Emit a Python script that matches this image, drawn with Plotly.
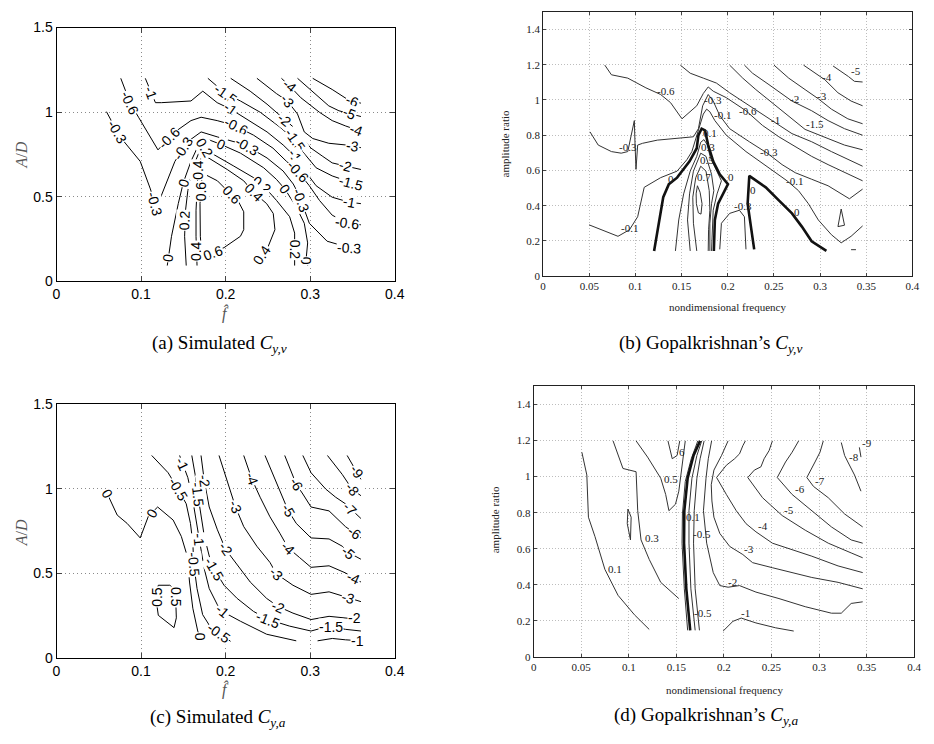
import plotly.graph_objects as go

SANS = "Liberation Sans, Arial, sans-serif"
SERIF = "Liberation Serif, Times New Roman, serif"

# ================= Panel (a): simulated C_y,v  (x = f-hat, y = A/D) =================
A_M6_F = [0.303, 0.326, 0.344, 0.36]
A_M6_A = [1.2, 1.134, 1.076, 1.053]
A_M5_F = [0.285, 0.307, 0.322, 0.334, 0.36]
A_M5_A = [1.2, 1.105, 1.037, 1.008, 0.974]
A_M4_F = [0.266, 0.276, 0.289, 0.311, 0.326, 0.342, 0.36]
A_M4_A = [1.2, 1.153, 1.085, 0.999, 0.950, 0.918, 0.887]
A_M3_F = [0.237, 0.260, 0.273, 0.285, 0.293, 0.303, 0.322, 0.342, 0.36]
A_M3_A = [1.2, 1.11, 1.066, 0.989, 0.883, 0.844, 0.816, 0.806, 0.790]
A_M2_F = [0.206, 0.229, 0.249, 0.264, 0.280, 0.291, 0.301, 0.315, 0.326, 0.342, 0.36]
A_M2_A = [1.2, 1.124, 1.047, 0.979, 0.912, 0.844, 0.787, 0.738, 0.700, 0.681, 0.661]
A_M15_F = [0.179, 0.2, 0.2175, 0.241, 0.264, 0.282, 0.291, 0.307, 0.326, 0.348, 0.36]
A_M15_A = [1.2, 1.11, 1.066, 0.999, 0.912, 0.835, 0.767, 0.671, 0.623, 0.584, 0.565]
A_M1_F = [0.105, 0.117, 0.124, 0.159, 0.173, 0.190, 0.206, 0.225, 0.249, 0.268, 0.282, 0.291, 0.307, 0.326, 0.346, 0.36]
A_M1_A = [1.2, 1.056, 1.056, 1.066, 1.124, 1.056, 1.018, 0.960, 0.883, 0.806, 0.738, 0.671, 0.565, 0.497, 0.468, 0.459]
A_M06_F = [0.076, 0.087, 0.097, 0.120, 0.140, 0.159, 0.171, 0.190, 0.210, 0.233, 0.256, 0.272, 0.285, 0.299, 0.311, 0.326, 0.344, 0.36]
A_M06_A = [1.2, 1.056, 0.970, 0.777, 0.883, 0.950, 0.970, 0.950, 0.922, 0.864, 0.787, 0.709, 0.652, 0.565, 0.478, 0.391, 0.343, 0.334]
A_M03_F = [0.059, 0.072, 0.080, 0.099, 0.111, 0.1165, 0.1235, 0.140, 0.155, 0.171, 0.190, 0.223, 0.249, 0.268, 0.280, 0.287, 0.299, 0.320, 0.346, 0.36]
A_M03_A = [1.003, 0.883, 0.825, 0.709, 0.546, 0.459, 0.501, 0.709, 0.825, 0.883, 0.854, 0.806, 0.729, 0.652, 0.575, 0.507, 0.343, 0.237, 0.199, 0.199]
A_0_F = [0.131, 0.136, 0.144, 0.150, 0.159, 0.168, 0.173, 0.181, 0.194, 0.2175, 0.245, 0.260, 0.270, 0.2835, 0.293, 0.297, 0.295, 0.297]
A_0_A = [0.093, 0.266, 0.459, 0.584, 0.709, 0.806, 0.835, 0.835, 0.81, 0.758, 0.671, 0.603, 0.546, 0.440, 0.343, 0.227, 0.121, 0.093]
A_02_F = [0.1534, 0.1515, 0.1526, 0.1553, 0.1612, 0.1689, 0.1755, 0.1864, 0.2097, 0.233, 0.2447, 0.2602, 0.2757, 0.2816, 0.2816, 0.2816]
A_02_A = [0.093, 0.266, 0.420, 0.536, 0.671, 0.767, 0.790, 0.748, 0.681, 0.613, 0.565, 0.478, 0.382, 0.285, 0.189, 0.093]
A_04_F = [0.1662, 0.165, 0.165, 0.1662, 0.1678, 0.1717, 0.1786, 0.2019, 0.2214, 0.233, 0.2485, 0.2563, 0.2583, 0.2505, 0.2427]
A_04_A = [0.093, 0.266, 0.420, 0.575, 0.690, 0.733, 0.733, 0.661, 0.594, 0.526, 0.459, 0.401, 0.305, 0.208, 0.150]
A_06_F = [0.172, 0.1767, 0.1903, 0.2058, 0.2155, 0.2214, 0.2214, 0.2175, 0.1981, 0.1845, 0.172, 0.1701, 0.1697, 0.172]
A_06_A = [0.613, 0.629, 0.594, 0.520, 0.468, 0.411, 0.305, 0.266, 0.199, 0.170, 0.141, 0.266, 0.459, 0.613]

A_LAB_TXT = ["-6", "-5", "-4", "-4", "-3", "-3", "-2", "-2", "-1.5", "-1.5", "-1.5",
             "-1", "-1", "-1", "-1", "-0.6", "-0.6", "-0.6", "-0.6", "-0.6",
             "-0.3", "-0.3", "-0.3", "-0.3", "-0.3", "-0.3", "0", "0", "0", "0", "0",
             "0.2", "0.2", "0.2", "0.2", "0.4", "0.4", "0.4", "0.4", "0.6", "0.6", "0.6"]
A_LAB_F = [0.350, 0.346, 0.276, 0.355, 0.273, 0.350, 0.270, 0.342, 0.200, 0.282, 0.348,
           0.112, 0.206, 0.282, 0.346, 0.087, 0.133, 0.212, 0.285, 0.344,
           0.072, 0.1165, 0.150, 0.225, 0.289, 0.346, 0.1324, 0.150, 0.194, 0.270, 0.295,
           0.1518, 0.1755, 0.2427, 0.2816, 0.1652, 0.1675, 0.233, 0.2427, 0.1705, 0.2078, 0.1845]
A_LAB_A = [1.067, 0.992, 1.153, 0.896, 1.066, 0.799, 0.954, 0.681, 1.110, 0.835, 0.584,
           1.116, 1.018, 0.738, 0.468, 1.056, 0.846, 0.917, 0.652, 0.343,
           0.883, 0.459, 0.786, 0.800, 0.480, 0.199, 0.141, 0.584, 0.810, 0.546, 0.121,
           0.36, 0.79, 0.570, 0.189, 0.18, 0.66, 0.526, 0.155, 0.53, 0.51, 0.170]
A_LAB_ROT = [22, 22, 40, 20, 50, 8, 40, 15, 35, 55, 15,
             70, 35, 55, 10, 65, -45, 27, 47, 8,
             60, 75, -57, 30, 70, 3, -82, -73, 24, 54, 90,
             -88, 60, 39, 90, -90, -90, 45, -56, -90, 47, -20]

# ================= Panel (b): Gopalkrishnan's C_y,v =================
B_M5_F = [0.314, 0.3264, 0.3307, 0.3371, 0.346]
B_M5_A = [1.193, 1.152, 1.133, 1.106, 1.102]
B_M4_F = [0.282, 0.2944, 0.3051, 0.3193, 0.3335, 0.346]
B_M4_A = [1.198, 1.152, 1.115, 1.041, 0.994, 0.967]
B_M3_F = [0.25, 0.266, 0.2837, 0.298, 0.3122, 0.33, 0.346]
B_M3_A = [1.198, 1.124, 1.059, 1.007, 0.948, 0.893, 0.865]
B_M2_F = [0.218, 0.2268, 0.2446, 0.2695, 0.2908, 0.3086, 0.3264, 0.346]
B_M2_A = [1.198, 1.152, 1.087, 0.994, 0.939, 0.883, 0.837, 0.800]
B_M15_F = [0.202, 0.2162, 0.2304, 0.2517, 0.2837, 0.3086, 0.3264, 0.346]
B_M15_A = [1.198, 1.124, 1.059, 0.967, 0.833, 0.781, 0.744, 0.717]
B_M1_F = [0.1486, 0.1593, 0.1735, 0.1877, 0.202, 0.2233, 0.25, 0.2695, 0.2908, 0.3122, 0.346]
B_M1_A = [1.198, 1.152, 1.124, 1.096, 1.041, 0.967, 0.874, 0.809, 0.763, 0.707, 0.624]
B_M06_F = [0.0668, 0.074, 0.0917, 0.1113, 0.1273, 0.138, 0.1504, 0.1664, 0.1735, 0.1788, 0.1842, 0.1984, 0.2197, 0.2375, 0.2553, 0.2731, 0.2908, 0.3086, 0.346]
B_M06_A = [1.198, 1.143, 1.124, 1.069, 1.031, 0.985, 0.893, 0.967, 1.037, 1.074, 1.050, 1.013, 0.939, 0.856, 0.791, 0.735, 0.680, 0.633, 0.541]
B_M03_F = [0.0508, 0.0597, 0.074, 0.0846, 0.0917, 0.0988, 0.0996, 0.1006, 0.1024, 0.1077, 0.1237, 0.1451, 0.1628, 0.1682, 0.1728, 0.1788, 0.1842, 0.1913, 0.202, 0.2233, 0.2428, 0.2588, 0.2731, 0.2908, 0.3086, 0.3317, 0.346]
B_M03_A = [0.819, 0.744, 0.707, 0.698, 0.707, 0.883, 0.744, 0.606, 0.744, 0.754, 0.772, 0.781, 0.791, 0.837, 0.967, 1.031, 0.994, 0.911, 0.837, 0.763, 0.698, 0.633, 0.587, 0.550, 0.513, 0.439, 0.494]
B_M01_F = [0.0498, 0.0668, 0.0811, 0.0935, 0.1024, 0.1095, 0.1149, 0.1273, 0.1451, 0.1557, 0.1611, 0.1664, 0.17, 0.1735, 0.1771, 0.1806, 0.186, 0.1984, 0.2197, 0.2446, 0.2642, 0.2766, 0.2873, 0.298, 0.3122, 0.3228, 0.3335, 0.346]
B_M01_A = [0.291, 0.254, 0.226, 0.263, 0.337, 0.504, 0.522, 0.559, 0.596, 0.661, 0.707, 0.800, 0.865, 0.920, 0.948, 0.933, 0.883, 0.800, 0.707, 0.615, 0.541, 0.485, 0.411, 0.319, 0.235, 0.189, 0.226, 0.285]
B_0L_F = [0.1202, 0.1255, 0.1301, 0.1362, 0.1451, 0.1586, 0.1664, 0.1682, 0.1717, 0.1753, 0.1788, 0.1842, 0.1913, 0.2002, 0.1948, 0.1895, 0.186, 0.1849]
B_0L_A = [0.143, 0.319, 0.448, 0.522, 0.559, 0.652, 0.726, 0.800, 0.837, 0.828, 0.744, 0.652, 0.578, 0.522, 0.467, 0.411, 0.319, 0.143]
B_0R_F = [0.2286, 0.2251, 0.2215, 0.2233, 0.2411, 0.2553, 0.2695, 0.2802, 0.2908, 0.3068]
B_0R_A = [0.152, 0.281, 0.411, 0.569, 0.504, 0.430, 0.356, 0.281, 0.198, 0.143]
B_01_F = [0.1433, 0.1469, 0.1522, 0.1593, 0.1664, 0.1707, 0.1742, 0.1778, 0.1813, 0.1877, 0.1931, 0.1884, 0.1842, 0.1824]
B_01_A = [0.143, 0.319, 0.467, 0.596, 0.680, 0.760, 0.775, 0.745, 0.670, 0.596, 0.541, 0.467, 0.374, 0.143]
B_03_F = [0.1593, 0.1564, 0.1586, 0.1628, 0.1707, 0.1764, 0.1824, 0.1849, 0.1824, 0.1806, 0.1806]
B_03_A = [0.143, 0.319, 0.467, 0.596, 0.698, 0.680, 0.578, 0.485, 0.411, 0.300, 0.143]
B_05_F = [0.1664, 0.1628, 0.1621, 0.1653, 0.1707, 0.1764, 0.1799, 0.1806, 0.1792, 0.1788]
B_05_A = [0.143, 0.300, 0.448, 0.559, 0.624, 0.596, 0.485, 0.374, 0.263, 0.143]
B_07_F = [0.1671, 0.17, 0.1721, 0.171, 0.1682, 0.166, 0.1657, 0.1671]
B_07_A = [0.513, 0.476, 0.411, 0.352, 0.359, 0.411, 0.467, 0.513]
B_M03L_F = [0.1913, 0.1931, 0.202, 0.2126, 0.218, 0.2197]
B_M03L_A = [0.152, 0.300, 0.356, 0.374, 0.337, 0.152]
B_TRI_F = [0.3228, 0.3264, 0.3193, 0.3228]
B_TRI_A = [0.381, 0.289, 0.281, 0.381]
B_DASH_F = [0.3335, 0.3388]
B_DASH_A = [0.15, 0.15]

B_LAB_TXT = ["-5", "-4", "-3", "-2", "-1.5", "-1", "-0.6", "-0.6", "-0.3", "-0.3", "-0.3",
             "-0.1", "-0.1", "-0.1", "0", "0", "0", "0", "0.1", "0.3", "0.5", "0.7", "-0.3"]
B_LAB_F = [0.339, 0.307, 0.302, 0.272, 0.294, 0.252, 0.133, 0.222, 0.092, 0.184, 0.245,
           0.094, 0.194, 0.272, 0.138, 0.203, 0.227, 0.275, 0.181, 0.179, 0.177, 0.174, 0.216]
B_LAB_A = [1.165, 1.130, 1.020, 1.005, 0.865, 0.885, 1.050, 0.940, 0.735, 1.000, 0.705,
           0.275, 0.915, 0.540, 0.550, 0.560, 0.490, 0.365, 0.815, 0.735, 0.660, 0.565, 0.400]

# ================= Panel (c): simulated C_y,a =================
C_M9_F = [0.3437, 0.3503, 0.36]
C_M9_A = [1.197, 1.139, 1.056]
C_M8_F = [0.3204, 0.3379, 0.3495, 0.36]
C_M8_A = [1.197, 1.085, 0.998, 0.959]
C_M7_F = [0.2913, 0.301, 0.3184, 0.3301, 0.3417, 0.36]
C_M7_A = [1.197, 1.095, 0.998, 0.950, 0.911, 0.824]
C_M6_F = [0.2699, 0.2777, 0.2835, 0.2913, 0.301, 0.3223, 0.3417, 0.36]
C_M6_A = [1.197, 1.104, 1.027, 0.969, 0.892, 0.869, 0.776, 0.709]
C_M5_F = [0.2466, 0.2563, 0.268, 0.2738, 0.2835, 0.301, 0.3223, 0.3379, 0.3456, 0.36]
C_M5_A = [1.197, 1.085, 0.950, 0.873, 0.795, 0.709, 0.703, 0.660, 0.622, 0.583]
C_M4_F = [0.2214, 0.2311, 0.2408, 0.2524, 0.2641, 0.2738, 0.2874, 0.301, 0.3223, 0.3417, 0.36]
C_M4_A = [1.197, 1.056, 0.950, 0.834, 0.737, 0.651, 0.593, 0.535, 0.544, 0.502, 0.448]
C_M3_F = [0.1922, 0.2019, 0.2117, 0.2214, 0.2369, 0.2524, 0.2602, 0.2796, 0.301, 0.3223, 0.3456, 0.36]
C_M3_A = [1.197, 1.046, 0.892, 0.776, 0.660, 0.564, 0.496, 0.429, 0.375, 0.390, 0.355, 0.332]
C_M2_F = [0.1709, 0.1748, 0.1806, 0.1903, 0.2, 0.2117, 0.2291, 0.2485, 0.2621, 0.2796, 0.301, 0.3223, 0.3456, 0.36]
C_M2_A = [1.197, 1.046, 0.892, 0.757, 0.641, 0.564, 0.448, 0.351, 0.303, 0.264, 0.226, 0.245, 0.236, 0.226]
C_M15_F = [0.16, 0.1639, 0.167, 0.1709, 0.1748, 0.1806, 0.1864, 0.1981, 0.2136, 0.233, 0.2505, 0.2757, 0.301, 0.3223, 0.3417, 0.36]
C_M15_A = [1.197, 1.085, 0.969, 0.834, 0.718, 0.602, 0.525, 0.429, 0.351, 0.274, 0.226, 0.187, 0.158, 0.187, 0.168, 0.158]
C_M1A_F = [0.1456, 0.1495, 0.1553, 0.1612, 0.1662, 0.1689, 0.1748, 0.1806, 0.1903, 0.1961, 0.2175, 0.2485, 0.2835]
C_M1A_A = [1.197, 1.143, 1.066, 0.931, 0.795, 0.699, 0.525, 0.409, 0.313, 0.274, 0.216, 0.139, 0.100]
C_M1B_F = [0.3087, 0.3262, 0.3417, 0.36]
C_M1B_A = [0.100, 0.114, 0.106, 0.100]
C_M05_F = [0.1126, 0.132, 0.1437, 0.1534, 0.1584, 0.1612, 0.1623, 0.1662, 0.1728, 0.1825, 0.1922, 0.2058]
C_M05_A = [1.197, 1.095, 0.998, 0.911, 0.795, 0.680, 0.554, 0.409, 0.255, 0.178, 0.149, 0.097]
C_0_F = [0.0602, 0.0718, 0.0835, 0.099, 0.1087, 0.1196, 0.1379, 0.1476, 0.1546, 0.1573, 0.1612, 0.167, 0.1697]
C_0_A = [0.969, 0.844, 0.795, 0.709, 0.838, 0.892, 0.815, 0.718, 0.602, 0.448, 0.293, 0.158, 0.124]
C_05_F = [0.1204, 0.134, 0.1406, 0.1417, 0.139, 0.1204, 0.1184, 0.1192, 0.1204]
C_05_A = [0.429, 0.429, 0.400, 0.236, 0.178, 0.251, 0.322, 0.409, 0.429]

C_LAB_TXT = ["0", "0", "0", "-0.5", "-0.5", "-0.5", "-1", "-1", "-1", "-1",
             "-1.5", "-1.5", "-1.5", "-1.5", "-2", "-2", "-2", "-2", "-3", "-3", "-3",
             "-4", "-4", "-4", "-5", "-5", "-6", "-6", "-7", "-8", "-9", "0.5", "0.5"]
C_LAB_F = [0.0602, 0.1130, 0.1697, 0.1437, 0.1623, 0.1922, 0.1495, 0.1689, 0.1961, 0.3560,
           0.167, 0.1864, 0.2505, 0.3250, 0.1748, 0.200, 0.2621, 0.352, 0.2117, 0.2602, 0.3456,
           0.2311, 0.2738, 0.3515, 0.2738, 0.3456, 0.2835, 0.3526, 0.3476, 0.3495, 0.3553, 0.1188, 0.1412]
C_LAB_A = [0.969, 0.855, 0.124, 0.998, 0.554, 0.149, 1.143, 0.699, 0.274, 0.101,
           0.969, 0.525, 0.226, 0.184, 1.046, 0.641, 0.303, 0.236, 0.892, 0.496, 0.355,
           1.056, 0.651, 0.473, 0.873, 0.622, 1.027, 0.736, 0.883, 0.998, 1.097, 0.36, 0.36]
C_LAB_ROT = [60, -60, 90, 60, 85, 35, 65, 85, 40, 0,
             83, 60, 22, 0, 82, 55, 25, 0, 68, 45, 15,
             70, 45, 25, 60, 40, 60, 35, 45, 50, 55, -90, 90]

# ================= Panel (d): Gopalkrishnan's C_y,a =================
D_01_F = [0.0507, 0.0559, 0.0576, 0.0645, 0.0749, 0.0887, 0.106, 0.1215]
D_01_A = [1.135, 1.009, 0.775, 0.667, 0.486, 0.342, 0.234, 0.153]
D_03_F = [0.0835, 0.0939, 0.1077, 0.1094, 0.1129, 0.1215, 0.1336, 0.1526]
D_03_A = [1.198, 1.045, 1.027, 0.811, 0.649, 0.541, 0.414, 0.324]
D_DIAM_F = [0.0991, 0.1025, 0.1018, 0.0984, 0.0991]
D_DIAM_A = [0.820, 0.775, 0.649, 0.739, 0.820]
D_05_F = [0.1077, 0.1198, 0.1336, 0.1388, 0.1422, 0.1491, 0.1526, 0.155, 0.1571, 0.1594]
D_05_A = [1.198, 1.108, 0.991, 0.901, 0.811, 0.847, 0.919, 1.027, 1.099, 1.198]
D_06_F = [0.1412, 0.1457, 0.1508, 0.1536]
D_06_A = [1.198, 1.099, 1.117, 1.198]
D_B1_F = [0.1619, 0.1584, 0.156, 0.1564, 0.1594, 0.1657, 0.1726]
D_B1_A = [0.148, 0.378, 0.631, 0.793, 0.973, 1.099, 1.198]
D_B0_F = [0.1646, 0.1605, 0.1581, 0.1584, 0.1619, 0.1681, 0.175]
D_B0_A = [0.148, 0.378, 0.631, 0.811, 0.991, 1.117, 1.198]
D_B2_F = [0.1698, 0.1653, 0.1633, 0.1633, 0.1664, 0.1716, 0.1767]
D_B2_A = [0.148, 0.378, 0.631, 0.811, 0.991, 1.117, 1.198]
D_B3_F = [0.1743, 0.1698, 0.1681, 0.1688, 0.1716, 0.175, 0.1792]
D_B3_A = [0.148, 0.378, 0.631, 0.811, 0.991, 1.099, 1.198]
D_M1_F = [0.1992, 0.2095, 0.2182, 0.2337, 0.2544, 0.2734]
D_M1_A = [0.144, 0.198, 0.216, 0.189, 0.162, 0.144]
D_M2_F = [0.1871, 0.1836, 0.1812, 0.1785, 0.1819, 0.1888, 0.1957, 0.2044, 0.2164, 0.2337, 0.2579, 0.2855, 0.3131, 0.3234, 0.3338, 0.3459]
D_M2_A = [1.198, 1.099, 0.991, 0.811, 0.631, 0.468, 0.396, 0.387, 0.396, 0.360, 0.324, 0.279, 0.243, 0.243, 0.297, 0.306]
D_M3_F = [0.2044, 0.1975, 0.1895, 0.1867, 0.1874, 0.1895, 0.1957, 0.2061, 0.2199, 0.2302, 0.251, 0.2717, 0.2924, 0.32, 0.3459]
D_M3_A = [1.198, 1.117, 1.036, 0.955, 0.865, 0.775, 0.685, 0.613, 0.568, 0.523, 0.495, 0.468, 0.441, 0.414, 0.378]
D_M4_F = [0.2226, 0.2199, 0.2164, 0.2113, 0.2026, 0.1923, 0.2026, 0.213, 0.2233, 0.2337, 0.251, 0.2717, 0.2924, 0.32, 0.3459]
D_M4_A = [1.198, 1.171, 1.126, 1.099, 1.063, 0.995, 0.901, 0.811, 0.739, 0.694, 0.631, 0.595, 0.559, 0.505, 0.468]
D_M5_F = [0.251, 0.2475, 0.2423, 0.2389, 0.232, 0.2251, 0.2406, 0.2613, 0.2855, 0.3097, 0.3338, 0.3459]
D_M5_A = [1.198, 1.144, 1.099, 1.054, 1.036, 0.995, 0.883, 0.784, 0.703, 0.631, 0.577, 0.550]
D_M6_F = [0.2786, 0.2717, 0.2648, 0.2561, 0.2717, 0.2924, 0.3131, 0.3338, 0.3459]
D_M6_A = [1.198, 1.135, 1.081, 0.995, 0.901, 0.811, 0.721, 0.649, 0.631]
D_M7_F = [0.3045, 0.301, 0.2958, 0.2872, 0.2941, 0.3097, 0.3269, 0.3407, 0.3459]
D_M7_A = [1.198, 1.135, 1.081, 0.995, 0.946, 0.883, 0.793, 0.739, 0.721]
D_M8_F = [0.3234, 0.3269, 0.3303, 0.3373, 0.3441]
D_M8_A = [1.189, 1.117, 1.081, 1.009, 0.919]
D_M9_F = [0.3424, 0.3441]
D_M9_A = [1.162, 1.108]

D_LAB_TXT = ["0.1", "0.3", "0.5", "6", "0.1", "-0.5", "-0.5", "-1", "-2", "-3", "-4", "-5", "-6", "-7", "-8", "-9"]
D_LAB_F = [0.0850, 0.1245, 0.1445, 0.1555, 0.1670, 0.1770, 0.1785, 0.2225, 0.2095, 0.2260, 0.2410, 0.2685, 0.2795, 0.3010, 0.3365, 0.3500]
D_LAB_A = [0.490, 0.660, 0.985, 1.135, 0.775, 0.680, 0.245, 0.245, 0.415, 0.600, 0.725, 0.815, 0.930, 0.975, 1.110, 1.185]

# ---------------- trace lists ----------------
A_LINES = [(A_M6_F, A_M6_A), (A_M5_F, A_M5_A), (A_M4_F, A_M4_A), (A_M3_F, A_M3_A),
           (A_M2_F, A_M2_A), (A_M15_F, A_M15_A), (A_M1_F, A_M1_A), (A_M06_F, A_M06_A),
           (A_M03_F, A_M03_A), (A_0_F, A_0_A), (A_02_F, A_02_A), (A_04_F, A_04_A), (A_06_F, A_06_A)]
C_LINES = [(C_M9_F, C_M9_A), (C_M8_F, C_M8_A), (C_M7_F, C_M7_A), (C_M6_F, C_M6_A),
           (C_M5_F, C_M5_A), (C_M4_F, C_M4_A), (C_M3_F, C_M3_A), (C_M2_F, C_M2_A),
           (C_M15_F, C_M15_A), (C_M1A_F, C_M1A_A), (C_M1B_F, C_M1B_A), (C_M05_F, C_M05_A),
           (C_0_F, C_0_A), (C_05_F, C_05_A)]
B_THIN = [(B_M5_F, B_M5_A), (B_M4_F, B_M4_A), (B_M3_F, B_M3_A), (B_M2_F, B_M2_A),
          (B_M15_F, B_M15_A), (B_M1_F, B_M1_A), (B_M06_F, B_M06_A), (B_M03_F, B_M03_A),
          (B_M01_F, B_M01_A), (B_01_F, B_01_A), (B_03_F, B_03_A), (B_05_F, B_05_A),
          (B_07_F, B_07_A), (B_M03L_F, B_M03L_A), (B_TRI_F, B_TRI_A), (B_DASH_F, B_DASH_A)]
B_THICK = [(B_0L_F, B_0L_A), (B_0R_F, B_0R_A)]
D_THIN = [(D_01_F, D_01_A), (D_03_F, D_03_A), (D_DIAM_F, D_DIAM_A), (D_05_F, D_05_A),
          (D_06_F, D_06_A), (D_B1_F, D_B1_A), (D_B2_F, D_B2_A), (D_B3_F, D_B3_A),
          (D_M1_F, D_M1_A), (D_M2_F, D_M2_A), (D_M3_F, D_M3_A), (D_M4_F, D_M4_A),
          (D_M5_F, D_M5_A), (D_M6_F, D_M6_A), (D_M7_F, D_M7_A), (D_M8_F, D_M8_A), (D_M9_F, D_M9_A)]
D_THICK = [(D_B0_F, D_B0_A)]

fig = go.Figure()


def add_lines(lines, xa, ya, color, width):
    for fx, ay in lines:
        fig.add_trace(go.Scatter(x=fx, y=ay, mode="lines", xaxis=xa, yaxis=ya,
                                 line=dict(color=color, width=width),
                                 showlegend=False, hoverinfo="skip"))


add_lines(A_LINES, "x", "y", "#000000", 1)
add_lines(B_THIN, "x2", "y2", "#333333", 1)
add_lines(B_THICK, "x2", "y2", "#111111", 2.6)
add_lines(C_LINES, "x3", "y3", "#000000", 1)
add_lines(D_THIN, "x4", "y4", "#333333", 1)
add_lines(D_THICK, "x4", "y4", "#111111", 2.6)

annotations = []


def clabels(txts, fs, ays, rots, xr, yr):
    for t, fx, ay, r in zip(txts, fs, ays, rots):
        annotations.append(dict(text=t, x=fx, y=ay, xref=xr, yref=yr, showarrow=False,
                                textangle=r, bgcolor="white", borderpad=0,
                                font=dict(family=SANS, size=14, color="black")))


def slabels(txts, fs, ays, xr, yr):
    for t, fx, ay in zip(txts, fs, ays):
        annotations.append(dict(text=t, x=fx, y=ay, xref=xr, yref=yr, showarrow=False,
                                xanchor="center", yanchor="middle",
                                font=dict(family=SERIF, size=11, color="#222")))


clabels(A_LAB_TXT, A_LAB_F, A_LAB_A, A_LAB_ROT, "x", "y")
clabels(C_LAB_TXT, C_LAB_F, C_LAB_A, C_LAB_ROT, "x3", "y3")
slabels(B_LAB_TXT, B_LAB_F, B_LAB_A, "x2", "y2")
slabels(D_LAB_TXT, D_LAB_F, D_LAB_A, "x4", "y4")

W, H = 934, 744


def paper(px, py):
    return px / W, 1 - py / H


def ptext(text, px, py, size, family, color="black", angle=0):
    x, y = paper(px, py)
    annotations.append(dict(text=text, x=x, y=y, xref="paper", yref="paper", showarrow=False,
                            xanchor="center", yanchor="middle", textangle=angle,
                            font=dict(family=family, size=size, color=color)))


# axis titles
ptext("<i>A</i>/<i>D</i>", 18, 150, 16, SERIF, "#555", -90)
ptext("<i>f\u0302</i>", 225, 312, 16, SERIF, "#555")
ptext("<i>A</i>/<i>D</i>", 18, 536, 16, SERIF, "#555", -90)
ptext("<i>f\u0302</i>", 225, 696, 16, SERIF, "#555")
ptext("amplitude ratio", 509, 139, 11, SERIF, "#222", -90)
ptext("nondimensional frequency", 735, 306, 11, SERIF, "#222")
ptext("amplitude ratio", 498, 523, 11, SERIF, "#222", -90)
ptext("nondimensional frequency", 731, 697, 11, SERIF, "#222")
# captions
ptext("(a) Simulated <i>C</i><sub><i>y,v</i></sub>", 219, 343, 19, SERIF)
ptext("(b) Gopalkrishnan\u2019s <i>C</i><sub><i>y,v</i></sub>", 717, 343, 19, SERIF)
ptext("(c) Simulated <i>C</i><sub><i>y,a</i></sub>", 217, 726, 19, SERIF)
ptext("(d) Gopalkrishnan\u2019s <i>C</i><sub><i>y,a</i></sub>", 713, 724, 19, SERIF)

SIM_XT = [0, 0.1, 0.2, 0.3, 0.4]
SIM_XL = ["0", "0.1", "0.2", "0.3", "0.4"]
SIM_YT = [0, 0.5, 1, 1.5]
SIM_YL = ["0", "0.5", "1", "1.5"]
EXP_XT = [0, 0.05, 0.1, 0.15, 0.2, 0.25, 0.3, 0.35, 0.4]
EXP_XL = ["0", "0.05", "0.1", "0.15", "0.2", "0.25", "0.3", "0.35", "0.4"]
EXP_YT = [0, 0.2, 0.4, 0.6, 0.8, 1.0, 1.2, 1.4]
EXP_YL = ["0", "0.2", "0.4", "0.6", "0.8", "1", "1.2", "1.4"]


def sim_axis(domain, rng, tv, tt):
    return dict(domain=domain, range=rng, tickvals=tv, ticktext=tt, ticks="inside", ticklen=5,
                showline=True, linecolor="black", linewidth=1, mirror="allticks",
                showgrid=True, gridcolor="#8a8a8a", griddash="1px,3px", gridwidth=1,
                zeroline=False, tickfont=dict(family=SANS, size=14, color="black"))


def exp_axis(domain, rng, tv, tt):
    return dict(domain=domain, range=rng, tickvals=tv, ticktext=tt, ticks="inside", ticklen=3,
                showline=True, linecolor="#222", linewidth=1, mirror="allticks",
                showgrid=True, gridcolor="#bdbdbd", griddash="1px,2px", gridwidth=1,
                zeroline=False, tickfont=dict(family=SERIF, size=11, color="#222"))


def dom_x(p0, p1):
    return [p0 / W, p1 / W]


def dom_y(top, bottom):
    return [1 - bottom / H, 1 - top / H]


fig.update_layout(
    width=W, height=H, autosize=False,
    margin=dict(l=0, r=0, t=0, b=0),
    paper_bgcolor="white", plot_bgcolor="white",
    xaxis=sim_axis(dom_x(53.3, 396.7), [0, 0.4], SIM_XT, SIM_XL),
    yaxis=sim_axis(dom_y(20, 279.3), [0, 1.5], SIM_YT, SIM_YL),
    xaxis2=exp_axis(dom_x(547.3, 922.3), [0, 0.4], EXP_XT, EXP_XL),
    yaxis2=exp_axis(dom_y(4, 274), [0, 1.5], EXP_YT, EXP_YL),
    xaxis3=sim_axis(dom_x(53.3, 396.7), [0, 0.4], SIM_XT, SIM_XL),
    yaxis3=sim_axis(dom_y(405, 664), [0, 1.5], SIM_YT, SIM_YL),
    xaxis4=exp_axis(dom_x(537.7, 924), [0, 0.4], EXP_XT, EXP_XL),
    yaxis4=exp_axis(dom_y(386.7, 663.3), [0, 1.5], EXP_YT, EXP_YL),
    annotations=annotations,
)
fig.update_layout(xaxis=dict(anchor="y"), yaxis=dict(anchor="x"),
                  xaxis2=dict(anchor="y2"), yaxis2=dict(anchor="x2"),
                  xaxis3=dict(anchor="y3"), yaxis3=dict(anchor="x3"),
                  xaxis4=dict(anchor="y4"), yaxis4=dict(anchor="x4"))

fig.write_html("out.html")
